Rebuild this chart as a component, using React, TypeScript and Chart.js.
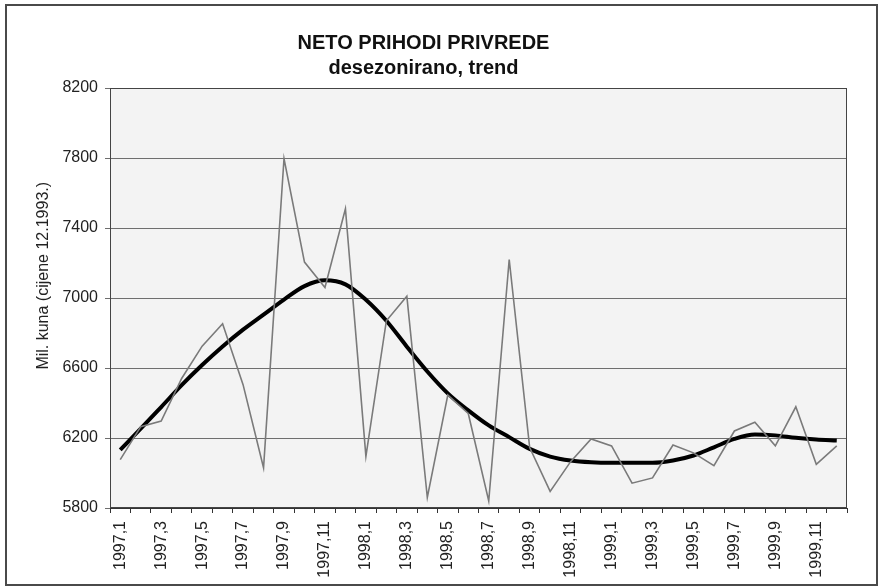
import React, { useEffect, useRef } from 'react';
import { Chart, registerables } from 'chart.js';

Chart.register(...registerables);

const categories = [
  '1997,1', '1997,2', '1997,3', '1997,4', '1997,5', '1997,6', '1997,7', '1997,8', '1997,9', '1997,10', '1997,11', '1997,12',
  '1998,1', '1998,2', '1998,3', '1998,4', '1998,5', '1998,6', '1998,7', '1998,8', '1998,9', '1998,10', '1998,11', '1998,12',
  '1999,1', '1999,2', '1999,3', '1999,4', '1999,5', '1999,6', '1999,7', '1999,8', '1999,9', '1999,10', '1999,11', '1999,12',
];

const desezonirano = [
  6076, 6265, 6297, 6540, 6725, 6853, 6505, 6030, 7797, 7205, 7060, 7510,
  6095, 6870, 7010, 5860, 6445, 6340, 5840, 7220, 6145, 5895, 6065, 6195,
  6155, 5942, 5972, 6160, 6115, 6042, 6240, 6290, 6155, 6378, 6050, 6155,
];

const trend = [
  6132, 6253, 6377, 6502, 6617, 6723, 6819, 6905, 6991, 7068, 7101, 7078,
  6990, 6870, 6722, 6580, 6455, 6358, 6272, 6205, 6138, 6094, 6071, 6061,
  6058, 6058, 6058, 6071, 6100, 6147, 6195, 6220, 6215, 6201, 6191, 6186,
];

const yMin = 5800;
const yMax = 8200;
const yStep = 400;

const FONT = 'Liberation Sans, Arial, sans-serif';

const plotArea = {
  id: 'plotArea',
  beforeDraw(chart: any) {
    const { ctx, chartArea } = chart;
    const { left, top, right, bottom } = chartArea;
    ctx.save();
    ctx.fillStyle = '#f3f3f3';
    ctx.fillRect(left, top, right - left, bottom - top);
    ctx.restore();
  },
  beforeDatasetsDraw(chart: any) {
    const { ctx, chartArea } = chart;
    const { left, top, right, bottom } = chartArea;
    ctx.save();
    ctx.strokeStyle = '#444';
    ctx.lineWidth = 1;
    ctx.strokeRect(left + 0.5, top + 0.5, right - left - 1, bottom - top - 1);
    ctx.restore();
  },
};

export default function App() {
  const ref = useRef<HTMLCanvasElement | null>(null);

  useEffect(() => {
    if (!ref.current) return;
    const chart = new Chart(ref.current, {
      type: 'line',
      data: {
        labels: categories,
        datasets: [
          {
            label: 'desezonirano',
            data: desezonirano,
            borderColor: '#7a7a7a',
            borderWidth: 1.6,
            pointRadius: 0,
            tension: 0,
            fill: false,
          },
          {
            label: 'trend',
            data: trend,
            borderColor: '#000',
            borderWidth: 4,
            pointRadius: 0,
            cubicInterpolationMode: 'monotone',
            fill: false,
          },
        ],
      },
      options: {
        responsive: false,
        animation: false,
        devicePixelRatio: 1,
        layout: { padding: { left: 0, right: 37, top: 0, bottom: 0 } },
        plugins: {
          legend: { display: false },
          tooltip: { enabled: false },
          title: {
            display: true,
            text: 'NETO PRIHODI PRIVREDE',
            color: '#111',
            font: { family: FONT, size: 20, weight: 'bold' },
            padding: { top: 31, bottom: 0 },
          },
          subtitle: {
            display: true,
            text: 'desezonirano, trend',
            color: '#111',
            font: { family: FONT, size: 20, weight: 'bold' },
            padding: { top: 1, bottom: 8 },
          },
        },
        scales: {
          x: {
            type: 'category',
            offset: true,
            grid: {
              offset: true,
              drawOnChartArea: false,
              drawTicks: true,
              tickLength: 5,
              color: '#333',
            },
            border: { display: true, color: '#333', width: 1 },
            ticks: {
              autoSkip: false,
              minRotation: 90,
              maxRotation: 90,
              padding: 8,
              color: '#222',
              font: { family: FONT, size: 16 },
              callback: (_v: any, i: number) => (i % 2 === 0 ? categories[i] : ''),
            },
            afterFit: (s: any) => {
              s.height = 79;
            },
          },
          y: {
            min: yMin,
            max: yMax,
            ticks: {
              stepSize: yStep,
              padding: 7,
              color: '#222',
              font: { family: FONT, size: 16 },
              callback: (v: any) => String(v),
            },
            grid: { color: '#6e6e6e', lineWidth: 1, tickLength: 5 },
            border: { display: true, color: '#333', width: 1 },
            title: {
              display: true,
              text: '          Mil. kuna (cijene 12.1993.)',
              color: '#222',
              font: { family: FONT, size: 16 },
              padding: { top: 34, bottom: 0 },
            },
            afterFit: (s: any) => {
              s.width = 110;
            },
          },
        },
      },
      plugins: [plotArea],
    });
    return () => chart.destroy();
  }, []);

  return (
    <div style={{ position: 'absolute', left: 0, top: 0, width: 884, height: 587, background: '#fff' }}>
      <canvas ref={ref} width={884} height={587} style={{ position: 'absolute', left: 0, top: 0, width: 884, height: 587 }} />
      <div
        style={{
          position: 'absolute',
          left: 5,
          top: 4,
          width: 873,
          height: 582,
          boxSizing: 'border-box',
          border: '2px solid #4a4a4a',
          pointerEvents: 'none',
        }}
      />
    </div>
  );
}
